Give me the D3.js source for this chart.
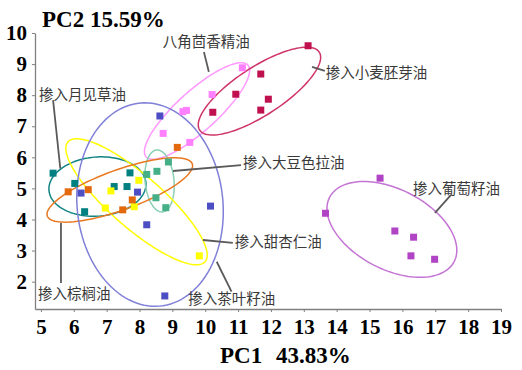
<!DOCTYPE html>
<html>
<head>
<meta charset="utf-8">
<script src="https://cdn.jsdelivr.net/npm/d3@7"></script>
<style>
  body { margin: 0; background: #fff; }
  .tick text { font-family: "Liberation Serif", "Times New Roman", serif; font-weight: bold; font-size: 21px; fill: #000; }
  .lab { font-family: "Noto Sans CJK SC", sans-serif; font-size: 14.5px; fill: #3a3a3a; }
</style>
</head>
<body>
<div id="chart"></div>
<script>
// PCA scores: [PC1, PC2]
const xTicks = [5, 6, 7, 8, 9, 10, 11, 12, 13, 14, 15, 16, 17, 18, 19];
const yTicks = [2, 3, 4, 5, 6, 7, 8, 9, 10];

const anise = [[11.13, 8.88], [10.21, 8.02], [9.32, 7.47], [9.43, 7.51], [8.72, 6.77], [9.53, 6.48]];
const wheatGerm = [[13.13, 9.59], [11.69, 8.68], [10.93, 8.03], [11.92, 7.87], [11.69, 7.52], [10.23, 7.45]];
const primrose = [[5.37, 5.49], [6.03, 5.16], [6.33, 4.25], [7.23, 5.06], [7.62, 5.06], [7.71, 5.50]];
const soybean = [[8.22, 5.45], [8.53, 5.55], [8.88, 5.85], [8.50, 4.70], [8.80, 4.38]];
const almond = [[7.13, 4.92], [6.96, 4.37], [7.98, 5.26], [7.84, 4.41], [9.82, 2.83]];
const palm = [[5.83, 4.89], [6.44, 4.96], [7.49, 4.31], [7.78, 4.63], [9.15, 6.32]];
const teaSeed = [[6.22, 4.85], [7.94, 4.88], [8.22, 3.83], [10.16, 4.43], [8.77, 1.54], [8.62, 7.33]];
const grapeSeed = [[15.32, 5.33], [13.66, 4.20], [15.77, 3.63], [16.34, 3.43], [16.26, 2.83], [16.98, 2.72]];

// confidence ellipses: [cx, cy, semi-major, semi-minor, angle deg]
const ellAnise = [9.75, 7.49, 2.14, 0.63, 44];
const ellWheatGerm = [11.65, 8.13, 2.21, 0.76, 35];
const ellPrimrose = [6.72, 5.06, 1.48, 0.95, 5];
const ellSoybean = [8.61, 5.24, 1.00, 0.44, 95];
const ellAlmond = [7.91, 4.57, 2.84, 0.82, -43];
const ellPalm = [7.40, 4.95, 2.36, 0.64, 21];
const ellTeaSeed = [8.32, 4.48, 3.28, 2.22, 95];
const ellGrapeSeed = [15.68, 3.68, 2.16, 1.27, -30];

const groups = [
  { name: '八角茴香精油', pts: anise, ell: ellAnise, fill: '#ff80ff', line: '#ff99ff',
    lab: [8.71, 9.71], lead: [[9.96, 9.39], [10.11, 8.75]] },
  { name: '掺入小麦胚芽油', pts: wheatGerm, ell: ellWheatGerm, fill: '#c0104e', line: '#cf3468',
    lab: [13.67, 8.71], lead: [[13.25, 8.91], [13.64, 8.78]] },
  { name: '掺入月见草油', pts: primrose, ell: ellPrimrose, fill: '#008080', line: '#108383',
    lab: [4.94, 8.0], lead: [[5.37, 7.84], [5.59, 5.64]] },
  { name: '掺入大豆色拉油', pts: soybean, ell: ellSoybean, fill: '#45b088', line: '#8ad0b4',
    lab: [11.15, 5.82], lead: [[9.02, 5.56], [11.09, 5.75]] },
  { name: '掺入甜杏仁油', pts: almond, ell: ellAlmond, fill: '#ffff00', line: '#ffff00',
    lab: [10.90, 3.28], lead: [[9.93, 3.34], [10.84, 3.25]] },
  { name: '掺入棕榈油', pts: palm, ell: ellPalm, fill: '#e4680c', line: '#e87820',
    lab: [4.91, 1.62], lead: [[5.61, 3.89], [5.61, 1.96]] },
  { name: '掺入茶叶籽油', pts: teaSeed, ell: ellTeaSeed, fill: '#4d4dc4', line: '#8080d8',
    lab: [9.48, 1.45], lead: [[10.35, 2.64], [10.80, 1.68]] },
  { name: '掺入葡萄籽油', pts: grapeSeed, ell: ellGrapeSeed, fill: '#b044c4', line: '#c474d4',
    lab: [16.32, 4.98], lead: [[16.99, 4.21], [17.48, 4.79]] }
];

const W = 522, H = 370;
const svg = d3.select('#chart').append('svg').attr('width', W).attr('height', H);

const x = d3.scaleLinear().domain([4.82, 19]).range([35, 501]);
const y = d3.scaleLinear().domain([1.12, 10]).range([309, 33]);

// axes
const xAxis = svg.append('g').attr('transform', 'translate(0,309)')
  .call(d3.axisBottom(x).tickValues(xTicks).tickSize(3).tickSizeOuter(0).tickPadding(7));
const yAxis = svg.append('g').attr('transform', 'translate(35,0)')
  .call(d3.axisLeft(y).tickValues(yTicks).tickSize(3).tickSizeOuter(0).tickPadding(5));
[xAxis, yAxis].forEach(g => {
  g.select('.domain').attr('stroke', '#808080').attr('stroke-width', 1.3);
  g.selectAll('.tick line').attr('stroke', '#808080');
});

// ellipses in data space, mapped through scales
function ellipsePath(e) {
  const [cx, cy, a, b, ang] = e;
  const th = ang * Math.PI / 180;
  const pts = d3.range(0, 121).map(i => {
    const t = i / 120 * 2 * Math.PI;
    const dx = a * Math.cos(t) * Math.cos(th) - b * Math.sin(t) * Math.sin(th);
    const dy = a * Math.cos(t) * Math.sin(th) + b * Math.sin(t) * Math.cos(th);
    return [x(cx + dx), y(cy + dy)];
  });
  return d3.line()(pts) + 'Z';
}

svg.append('g').selectAll('path').data(groups).enter().append('path')
  .attr('d', d => ellipsePath(d.ell))
  .attr('fill', 'none')
  .attr('stroke', d => d.line)
  .attr('stroke-width', 1.5);

// leader lines
svg.append('g').selectAll('line').data(groups).enter().append('line')
  .attr('x1', d => x(d.lead[0][0])).attr('y1', d => y(d.lead[0][1]))
  .attr('x2', d => x(d.lead[1][0])).attr('y2', d => y(d.lead[1][1]))
  .attr('stroke', '#5a5a5a').attr('stroke-width', 1.8);

// points
const s = 7;
groups.forEach(g => {
  svg.append('g').selectAll('rect').data(g.pts).enter().append('rect')
    .attr('x', d => x(d[0]) - s / 2)
    .attr('y', d => y(d[1]) - s / 2)
    .attr('width', s).attr('height', s)
    .attr('fill', g.fill);
});

// labels
svg.append('g').selectAll('text').data(groups).enter().append('text')
  .attr('class', 'lab')
  .attr('x', d => x(d.lab[0]))
  .attr('y', d => y(d.lab[1]))
  .attr('dy', '0.36em')
  .text(d => d.name);

// axis titles
svg.append('text')
  .attr('x', 42).attr('y', 27)
  .style('font-family', '"Liberation Serif", serif').style('font-weight', 'bold').style('font-size', '23px')
  .text('PC2 15.59%');

const t1 = svg.append('text')
  .attr('y', 363)
  .style('font-family', '"Liberation Serif", serif').style('font-weight', 'bold').style('font-size', '23px');
t1.append('tspan').attr('x', 220).text('PC1');
t1.append('tspan').attr('x', 276).text('43.83%');
</script>
</body>
</html>
